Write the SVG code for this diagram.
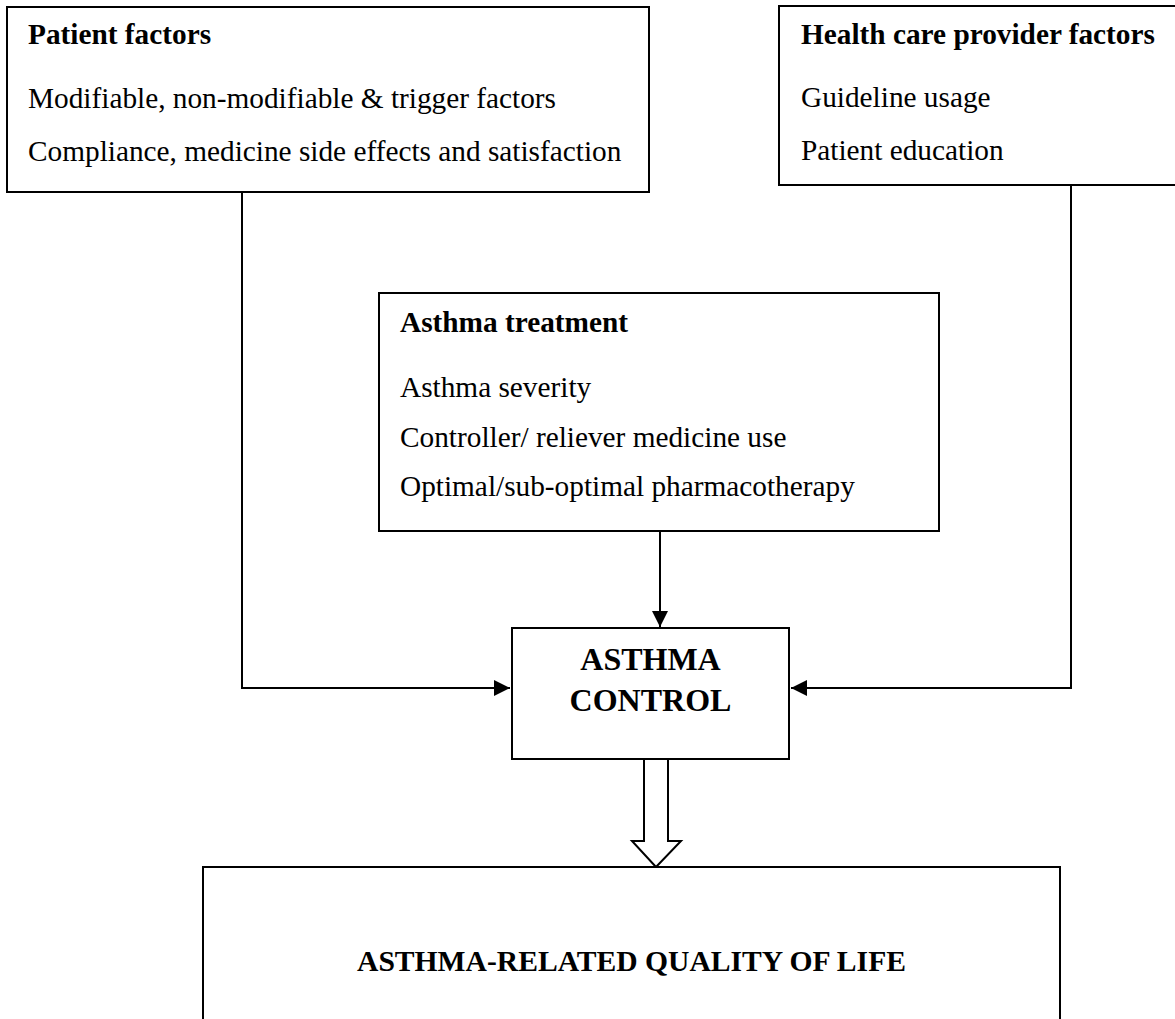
<svg xmlns="http://www.w3.org/2000/svg" width="1175" height="1019" viewBox="0 0 1175 1019">
<style>
.box{fill:#fff;stroke:#000;stroke-width:2}
.t{font-family:"Liberation Serif","Times New Roman",serif;font-size:29.3px;fill:#000}
.b{font-weight:bold}
.c{font-size:32px;text-anchor:middle}
.m{font-size:29.6px;text-anchor:middle}
.ln{fill:none;stroke:#000;stroke-width:2}
</style>
<defs>
<marker id="ah" markerWidth="16" markerHeight="16" refX="16" refY="8" orient="auto" markerUnits="userSpaceOnUse">
<path d="M0,0 L16,8 L0,16 Z" fill="#000"/>
</marker>
</defs>
<rect width="1175" height="1019" fill="#fff"/>
<g id="connectors">
<path class="ln" d="M242,192 V688 H510" marker-end="url(#ah)"/>
<path class="ln" d="M1071,185 V688 H791" marker-end="url(#ah)"/>
<path class="ln" d="M660,531 V627" marker-end="url(#ah)"/>
<path class="ln" d="M644,759 V841 H632 L656,867 L681,841 H668 V759" fill="#fff"/>
</g>
<g id="patient">
<rect class="box" x="7" y="7" width="642" height="185"/>
<text class="t b" x="28" y="44">Patient factors</text>
<text class="t" x="28" y="108">Modifiable, non-modifiable &amp; trigger factors</text>
<text class="t" x="28" y="161">Compliance, medicine side effects and satisfaction</text>
</g>
<g id="provider">
<rect class="box" x="779" y="6" width="410" height="179"/>
<text class="t b" x="801" y="44">Health care provider factors</text>
<text class="t" x="801" y="107">Guideline usage</text>
<text class="t" x="801" y="160">Patient education</text>
</g>
<g id="treatment">
<rect class="box" x="379" y="293" width="560" height="238"/>
<text class="t b" x="400" y="332">Asthma treatment</text>
<text class="t" x="400" y="397">Asthma severity</text>
<text class="t" x="400" y="447">Controller/ reliever medicine use</text>
<text class="t" x="400" y="496">Optimal/sub-optimal pharmacotherapy</text>
</g>
<g id="control">
<rect class="box" x="512" y="628" width="277" height="131"/>
<text class="t b c" x="650.5" y="670">ASTHMA</text>
<text class="t b c" x="650.5" y="711">CONTROL</text>
</g>
<g id="qol">
<rect class="box" x="203" y="867" width="857" height="170"/>
<text class="t b m" x="631.5" y="971">ASTHMA-RELATED QUALITY OF LIFE</text>
</g>
</svg>
